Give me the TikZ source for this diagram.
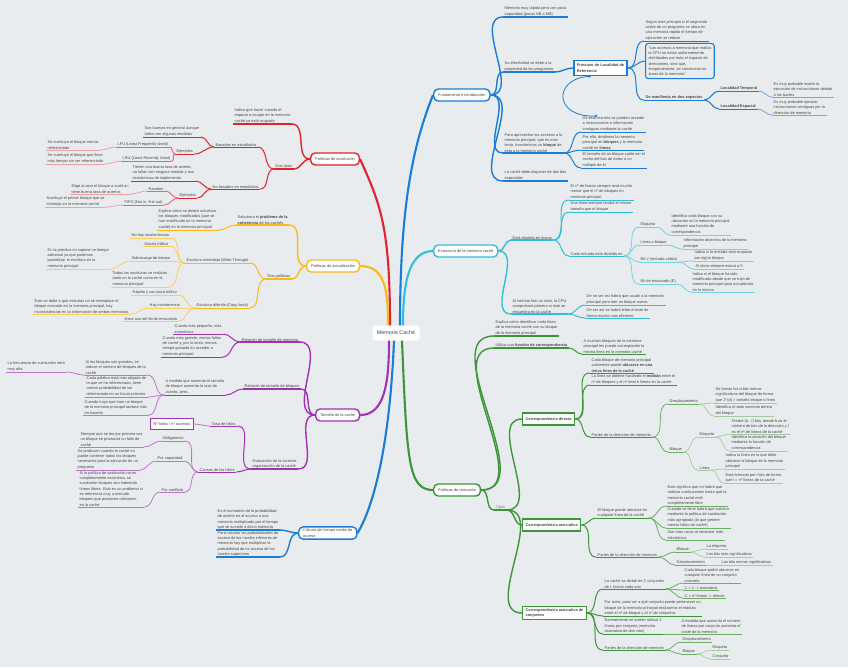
\documentclass[tikz,border=0pt]{standalone}
\usepackage{fontspec}
\setmainfont{Liberation Sans}
\definecolor{bgc}{RGB}{233,236,239}
\definecolor{coltxt}{RGB}{70,70,70}
\definecolor{colrA}{RGB}{226,35,45}
\definecolor{colrB}{RGB}{232,100,110}
\definecolor{colrC}{RGB}{240,160,168}
\definecolor{colyA}{RGB}{250,185,25}
\definecolor{colyB}{RGB}{250,205,90}
\definecolor{colpA}{RGB}{160,50,180}
\definecolor{colpB}{RGB}{190,115,205}
\definecolor{colbA}{RGB}{25,125,215}
\definecolor{colbB}{RGB}{110,170,230}
\definecolor{colcA}{RGB}{50,190,215}
\definecolor{colcB}{RGB}{115,210,228}
\definecolor{colgA}{RGB}{60,150,55}
\definecolor{colgB}{RGB}{105,175,100}
\definecolor{colgC}{RGB}{160,205,155}
\newcommand\fs{\fontsize{3.9}{5.3}\selectfont}
\newcommand\conR[3]{\draw[#1] (#2) to[out=0,in=180] (#3);}
\newcommand\conL[3]{\draw[#1] (#2) to[out=180,in=0] (#3);}
\begin{document}
\begin{tikzpicture}[x=1pt,y=-1pt,
 txt/.style={font=\fs, text=coltxt, align=left, inner xsep=1.5pt, inner ysep=0.7pt, anchor=south west},
 und/.style={txt, append after command={(\tikzlastnode.south west) edge[#1] (\tikzlastnode.south east)}},
 bx/.style={draw=#1, line width=1.4pt, rounded corners=4.5pt, fill=white, font=\fs, text=coltxt, inner xsep=4.5pt, inner ysep=2pt, minimum height=12pt, align=left, anchor=west},
 rbx/.style={draw=#1, line width=1.3pt, fill=white, font=\fs\bfseries, text=coltxt, inner xsep=3pt, inner ysep=2.2pt, minimum height=12pt, align=left, anchor=west},
 ctr/.style={fill=white, rounded corners=3pt, font=\fontsize{5.4}{6}\selectfont, text=coltxt, minimum width=47pt, minimum height=15pt},
 mred/.style={draw=colrA, line width=2.1pt},
 myel/.style={draw=colyA, line width=2.1pt},
 mpur/.style={draw=colpA, line width=2.1pt},
 mblu/.style={draw=colbA, line width=2.1pt},
 mcya/.style={draw=colcA, line width=2.1pt},
 mgre/.style={draw=colgA, line width=2.1pt},
 lrA/.style={draw=colrA, line width=1.4pt},
 lrB/.style={draw=colrA, line width=1pt},
 lrC/.style={draw=colrB, line width=0.9pt},
 lrD/.style={draw=colrC, line width=0.8pt},
 lyA/.style={draw=colyA, line width=1.4pt},
 lyB/.style={draw=colyA, line width=1pt},
 lyC/.style={draw=colyB, line width=0.8pt},
 lpA/.style={draw=colpA, line width=1.4pt},
 lpB/.style={draw=colpA, line width=1pt},
 lpC/.style={draw=colpB, line width=0.8pt},
 lbA/.style={draw=colbA, line width=1.4pt},
 lbB/.style={draw=colbA, line width=1pt},
 lbC/.style={draw=colbB, line width=0.8pt},
 lcA/.style={draw=colcA, line width=1.4pt},
 lcB/.style={draw=colcA, line width=1pt},
 lcC/.style={draw=colcB, line width=0.8pt},
 lgA/.style={draw=colgA, line width=1.4pt},
 lgB/.style={draw=colgA, line width=1pt},
 lgC/.style={draw=colgB, line width=0.8pt},
 lgD/.style={draw=colgC, line width=0.7pt}
]
\fill[bgc] (0,0) rectangle (848,667);
\useasboundingbox (0,0) rectangle (848,667);

% central
\node[ctr] (c) at (396,333) {Memoria Caché};

% branch boxes
\node[bx=colrA] (ps) at (310,159) {Políticas de sustitución};
\node[bx=colyA] (pa) at (306,266) {Políticas de actualización};
\node[bx=colpA] (tc) at (315,415) {Tamaño de la caché};
\node[bx=colbA] (ct) at (298,533) {Cálculo del tiempo medio de\\acceso};
\node[bx=colbA] (fi) at (433,95) {Fundamento e introducción};
\node[bx=colcA] (es) at (433,251) {Estructura de la memoria caché};
\node[bx=colgA] (pu) at (433,490) {Políticas de ubicación};

% main connectors
\draw[mred] ([xshift=-6pt]c.north) .. controls +(0,-100) and +(20,45) .. (ps.east);
\draw[myel] ([xshift=-8pt]c.north) .. controls +(0,-35) and +(25,0) .. (pa.east);
\draw[mblu] ([xshift=4pt]c.north) .. controls +(0,-120) and +(-20,50) .. (fi.west);
\draw[mcya] ([xshift=7pt]c.north) .. controls +(0,-40) and +(-25,0) .. (es.west);
\draw[mpur] ([xshift=-7pt]c.south) .. controls +(0,40) and +(25,0) .. (tc.east);
\draw[mblu] ([xshift=-2pt]c.south) .. controls +(-5,120) and +(12,-20) .. (ct.east);
\draw[mgre] ([xshift=6pt]c.south) .. controls +(5,120) and +(-25,0) .. (pu.west);

% ---------- RED ----------
\node[und=lrA] (r1) at (233,124) {Indica qué hacer cuando el\\espacio a ocupar en la memoria\\caché ya está ocupado};
\node[und=lrA] (r2) at (274,169) {Dos tipos};
\node[und=lrB] (r3) at (214,147) {Basados en estadística};
\node[und=lrB] (r4) at (211,189) {No basados en estadística};
\node[und=lrB] (r5) at (143,137) {Son buenas en general aunque\\fallan con algunas medidas};
\node[und=lrB] (r6) at (175,154) {Ejemplos};
\node[und=lrC] (r7) at (116,147) {LFU (Least Frequently Used)};
\node[und=lrC] (r8) at (121,161) {LRU (Least Recently Used)};
\node[und=lrD] (r9) at (46,150) {Se sustituye el bloque menos\\referenciado};
\node[und=lrD] (r10) at (46,164) {Se sustituye el bloque que lleva\\más tiempo sin ser referenciado};
\node[und=lrB] (r11) at (131,181) {Tienen una buena tasa de acierto,\\no fallan con ninguna medida y son\\económicas de implementar};
\node[und=lrB] (r12) at (178,198) {Ejemplos};
\node[und=lrC] (r13) at (147,191) {Random};
\node[und=lrC] (r14) at (123,205) {FIFO (first in, first out)};
\node[und=lrD] (r15) at (70,194) {Elige al azar el bloque a sustituir;\\tiene buena tasa de aciertos};
\node[und=lrD] (r16) at (45,207) {Sustituye el primer bloque que se\\introdujo en la memoria caché};
\conL{lrA}{ps.west}{r1.south east}
\conL{lrA}{ps.west}{r2.south east}
\conL{lrB}{r2.south west}{r3.south east}
\conL{lrB}{r2.south west}{r4.south east}
\conL{lrB}{r3.south west}{r5.south east}
\conL{lrB}{r3.south west}{r6.south east}
\conL{lrC}{r6.south west}{r7.south east}
\conL{lrC}{r6.south west}{r8.south east}
\conL{lrD}{r7.south west}{r9.south east}
\conL{lrD}{r8.south west}{r10.south east}
\conL{lrB}{r4.south west}{r11.south east}
\conL{lrB}{r4.south west}{r12.south east}
\conL{lrC}{r12.south west}{r13.south east}
\conL{lrC}{r12.south west}{r14.south east}
\conL{lrD}{r13.south west}{r15.south east}
\conL{lrD}{r14.south west}{r16.south east}

% ---------- YELLOW ----------
\node[und=lyA] (y1) at (236,225) {Soluciona el \textbf{problema de la}\\\textbf{coherencia} de las cachés};
\node[und=lyA] (y2) at (266,279) {Dos políticas};
\node[und=lyB] (y3) at (157,230) {Explica cómo se deben actualizar\\los bloques modificados (que se\\han modificado en la memoria\\caché) en la memoria principal};
\node[und=lyB] (y4) at (185,263) {Escritura inmediata (Write Through)};
\node[und=lyB] (y5) at (195,308) {Escritura diferida (Copy back)};
\node[und=lyC] (y6) at (130,238) {No hay incoherencias};
\node[und=lyC] (y7) at (143,246) {Mucho tráfico};
\node[und=lyC] (y8) at (130,261) {Sobrecarga de tiempo};
\node[und=lyC] (y9) at (111,287) {Todas las escrituras se realizan\\tanto en la caché como en la\\memoria principal};
\node[und=lyC] (y10) at (46,269) {En la práctica no supone un tiempo\\adicional ya que podemos\\paralelizar la escritura en la\\memoria principal};
\node[und=lyC] (y11) at (131,295) {Rápido y con poco tráfico};
\node[und=lyC] (y12) at (148,308) {Hay incoherencia};
\node[und=lyC] (y13) at (123,321) {Hace uso del bit de ensuciado};
\node[und=lyC] (y14) at (33,314) {Esto se debe a que mientras no se reemplace el\\bloque marcado en la memoria principal, hay\\inconsistencias en la información de ambas memorias.};
\conL{lyA}{pa.west}{y1.south east}
\conL{lyA}{pa.west}{y2.south east}
\conL{lyB}{y1.south west}{y3.south east}
\conL{lyB}{y2.south west}{y4.south east}
\conL{lyB}{y2.south west}{y5.south east}
\conL{lyC}{y4.south west}{y6.south east}
\conL{lyC}{y4.south west}{y7.south east}
\conL{lyC}{y4.south west}{y8.south east}
\conL{lyC}{y4.south west}{y9.south east}
\conL{lyC}{y8.south west}{y10.south east}
\conL{lyC}{y5.south west}{y11.south east}
\conL{lyC}{y5.south west}{y12.south east}
\conL{lyC}{y5.south west}{y13.south east}
\conL{lyC}{y12.south west}{y14.south east}

% ---------- PURPLE ----------
\node[und=lpA] (p1) at (240,342) {Relación de tamaño de memoria};
\node[und=lpA] (p2) at (243,389) {Relación de tamaño de bloques};
\node[und=lpA] (p3) at (251,469) {Evaluación de la correcta\\organización de la caché};
\node[und=lpB] (p4) at (173,334) {Cuanto más pequeña, más\\económica};
\node[und=lpB] (p5) at (161,357) {Cuanto más grande, menos fallos\\de caché y, por lo tanto, menos\\tiempo gastado en acceder a\\memoria principal};
\node[und=lpB] (p6) at (164,395) {A medida que aumenta el tamaño\\de bloque aumenta la tasa de\\acierto, pero...};
\node[und=lpC] (p7) at (84,375) {Si los bloques son grandes, se\\reduce el número de bloques de la\\caché};
\node[und=lpC] (p8) at (85,397) {Cada palabra está más alejada de\\la que se ha referenciado, tiene\\menos probabilidad de ser\\referenciada en un futuro próximo};
\node[und=lpC] (p9) at (83,415) {Cuando haya que traer un bloque\\de la memoria principal tardará más\\en hacerlo};
\node[und=lpC] (p10) at (6,372) {La frecuencia de sustitución será\\muy alta};
\node[und=lpB] (p11) at (210,426) {Tasa de fallos};
\node[und=lpB] (p12) at (198,472) {Causas de los fallos};
\node[draw=colpA, line width=1.1pt, fill=white, font=\fs, text=coltxt, inner xsep=3pt, minimum height=11.5pt, anchor=west] (p13) at (150,424) {Nº fallos / nº accesos};
\node[und=lpC] (p14) at (161,441) {Obligatorios};
\node[und=lpC] (p15) at (156,461) {Por capacidad};
\node[und=lpC] (p16) at (160,492) {Por conflicto};
\node[und=lpC] (p17) at (79,447) {Siempre que se lea por primera vez\\un bloque se producirá un fallo de\\caché};
\node[und=lpC] (p18) at (76,470) {Se producen cuando la caché no\\puede contener todos los bloques\\necesarios para la ejecución de un\\programa};
\node[und=lpC] (p19) at (78,507) {Si la política de sustitución no es\\completamente asociativa, se\\sustituirán bloques aún habiendo\\líneas libres. Esto es un problema si\\se referencia muy a menudo\\bloques que producen colisiones\\en la caché};
\conL{lpA}{tc.west}{p1.south east}
\conL{lpA}{tc.west}{p2.south east}
\conL{lpA}{tc.west}{p3.south east}
\conL{lpB}{p1.south west}{p4.south east}
\conL{lpB}{p1.south west}{p5.south east}
\conL{lpB}{p2.south west}{p6.south east}
\conL{lpC}{p6.south west}{p7.south east}
\conL{lpC}{p6.south west}{p8.south east}
\conL{lpC}{p6.south west}{p9.south east}
\conL{lpC}{p7.south west}{p10.south east}
\conL{lpB}{p3.south west}{p11.south east}
\conL{lpB}{p3.south west}{p12.south east}
\conL{lpC}{p11.south west}{p13.east}
\conL{lpC}{p12.south west}{p14.south east}
\conL{lpC}{p12.south west}{p15.south east}
\conL{lpC}{p12.south west}{p16.south east}
\conL{lpC}{p14.south west}{p17.south east}
\conL{lpC}{p15.south west}{p18.south east}
\conL{lpC}{p16.south west}{p19.south east}

% ---------- BLUE calculo ----------
\node[und=lbA] (k1) at (216,530) {Es el sumatorio de la probabilidad\\de acierto en el acceso a una\\memoria multiplicado por el tiempo\\que se accede a dicha memoria};
\node[und=lbA] (k2) at (216,557) {Para calcular las probabilidades de\\acceso de los niveles inferiores de\\memoria hay que multiplicar la\\probabilidad de no acceso de los\\niveles superiores};
\conL{lbA}{ct.west}{k1.south east}
\conL{lbA}{ct.west}{k2.south east}

% ---------- BLUE fundamento ----------
\node[und=lbA] (f1) at (503,17) {Memoria muy rápida pero con poca\\capacidad (pocos KB o MB)};
\node[und=lbA] (f2) at (503,72) {Su efectividad se debe a la\\propiedad de los programas};
\node[und=lbA] (f3) at (503,153) {Para aprovechar los accesos a la\\memoria principal, que es más\\lenta, transferimos un \textbf{bloque} de\\esta a la memoria caché};
\node[und=lbA] (f4) at (503,181) {La caché debe disponer de dos bits\\especiales};
\node[rbx=colbA, line width=1.7pt, minimum height=15pt] (pl) at (573,68) {Principio de Localidad de\\Referencia};
\node[und=lbB] (f5) at (644,41) {Según este principio si el segmento\\activo de un programa se ubica en\\una memoria rápida el tiempo de\\ejecución se reduce};
\node[draw=colbA, line width=1.1pt, rounded corners=3pt, font=\fs, text=coltxt, align=left, inner sep=3pt, anchor=west] (f6) at (645,61) {“Los accesos a memoria que realiza\\la CPU no están uniformemente\\distribuidos por todo el espacio de\\direcciones, sino que,\\temporalmente, se concentran en\\áreas de la memoria”.};
\node[und=lbB] (f7) at (644,100) {\textbf{Se manifiesta en dos aspectos}};
\node[und=lbB] (f8) at (719,91) {\textbf{Localidad Temporal}};
\node[und=lbB] (f9) at (719,109) {\textbf{Localidad Espacial}};
\node[und=lbC] (f10) at (772,97) {Es muy probable repetir la\\ejecución de instrucciones debido\\a los bucles};
\node[und=lbC] (f11) at (772,115) {Es muy probable ejecutar\\instrucciones contiguas por la\\dirección de memoria};
\node[und=lbB] (f12) at (581,132) {De esta manera se pueden acceder\\a instrucciones e información\\contiguas mediante la caché};
\node[und=lbB] (f13) at (581,150) {Por ello, dividimos la memoria\\principal en \textbf{bloques} y la memoria\\caché en \textbf{líneas}};
\node[und=lbB] (f14) at (581,168) {El tamaño de un bloque suele ser el\\ancho del bus de datos o un\\múltiplo de él};
\conR{lbA}{fi.east}{f1.south west}
\conR{lbA}{fi.east}{f2.south west}
\conR{lbA}{fi.east}{f3.south west}
\conR{lbA}{fi.east}{f4.south west}
\conR{lbA}{f2.south east}{pl.west}
\conR{lbB}{pl.east}{f5.south west}
\conR{lbB}{pl.east}{f6.west}
\conR{lbB}{pl.east}{f7.south west}
\conR{lbB}{f7.south east}{f8.south west}
\conR{lbB}{f7.south east}{f9.south west}
\conR{lbC}{f8.south east}{f10.south west}
\conR{lbC}{f9.south east}{f11.south west}
\conR{lbB}{f3.south east}{f12.south west}
\conR{lbB}{f3.south east}{f13.south west}
\conR{lbB}{f3.south east}{f14.south west}
\coordinate (rel1) at ([xshift=-11pt]pl.south);
\coordinate (rel2) at (596,116);
\draw[draw=colbA, line width=0.8pt] (rel1) .. controls (553,78) and (553,118) .. (rel2);
\fill[colbA] (rel1) circle (1.4);
\fill[colbA] (rel2) circle (1.4);

% ---------- CYAN ----------
\node[und=lcA] (e1) at (511,240) {Está dividida en líneas};
\node[und=lcA] (e2) at (511,314) {Al intentar leer un dato, la CPU\\comprobará primero si este se\\encuentra en la caché};
\node[und=lcB] (e3) at (569,200) {El nº de líneas siempre será mucho\\menor que el nº de bloques en\\memoria principal};
\node[und=lcB] (e4) at (569,212) {Una línea siempre tendrá el mismo\\tamaño que el bloque};
\node[und=lcB] (e5) at (569,256) {Cada entrada está dividida en};
\node[und=lcC] (e6) at (639,227) {Etiqueta};
\node[und=lcC] (e7) at (639,245) {Línea o bloque};
\node[und=lcC] (e8) at (639,262) {Bit V (entrada válida)};
\node[und=lcC] (e9) at (639,284) {Bit de ensuciado (E)};
\node[und=lcC] (e10) at (670,235) {Identifica cada bloque con su\\ubicación en la memoria principal\\mediante una función de\\correspondencia};
\node[und=lcC] (e11) at (682,249) {Información dinámica de la memoria\\principal};
\node[und=lcC] (e12) at (693,261) {Indica si la entrada está ocupada\\por algún bloque};
\node[und=lcC] (e13) at (694,269) {Al inicio siempre estará a 0};
\node[und=lcC] (e14) at (691,292) {Indica si el bloque ha sido\\modificado desde que se trajo de\\memoria principal para actualizarlo\\en la misma};
\node[und=lcB] (e15) at (585,305) {De no ser así habrá que acudir a la memoria\\principal para leer un bloque nuevo};
\node[und=lcB] (e16) at (585,318) {De ser así se habrá leído el dato de\\forma mucho más eficiente};
\conR{lcA}{es.east}{e1.south west}
\conR{lcA}{es.east}{e2.south west}
\conR{lcB}{e1.south east}{e3.south west}
\conR{lcB}{e1.south east}{e4.south west}
\conR{lcB}{e1.south east}{e5.south west}
\conR{lcC}{e5.south east}{e6.south west}
\conR{lcC}{e5.south east}{e7.south west}
\conR{lcC}{e5.south east}{e8.south west}
\conR{lcC}{e5.south east}{e9.south west}
\conR{lcC}{e6.south east}{e10.south west}
\conR{lcC}{e7.south east}{e11.south west}
\conR{lcC}{e8.south east}{e12.south west}
\conR{lcC}{e8.south east}{e13.south west}
\conR{lcC}{e9.south east}{e14.south west}
\conR{lcB}{e2.south east}{e15.south west}
\conR{lcB}{e2.south east}{e16.south west}

% ---------- GREEN ----------
\node[und=lgA] (g1) at (494,336) {Explica cómo identificar cada línea\\de la memoria caché con su bloque\\de la memoria principal};
\node[und=lgA] (g2) at (494,348) {Utiliza una \textbf{función de correspondencia}};
\node[und=lgA, text=gray] (g3) at (494,510) {Tipos};
\node[und=lgB] (g4) at (582,354) {A muchos bloques de la memoria\\principal les puede corresponder la\\misma línea en la memoria caché};
\node[rbx=colgA] (cd) at (522,419) {Correspondencia directa};
\node[rbx=colgA] (ca) at (522,525) {Correspondencia asociativa};
\node[rbx=colgA] (cc) at (522,613) {Correspondencia asociativa de\\conjuntos};
\conR{lgA}{pu.east}{g1.south west}
\conR{lgA}{pu.east}{g2.south west}
\conR{lgA}{pu.east}{g3.south west}
\conR{lgB}{g2.south east}{g4.south west}
\conR{lgA}{g3.south east}{cd.west}
\conR{lgA}{g3.south east}{ca.west}
\conR{lgA}{g3.south east}{cc.west}
% directa
\node[und=lgB] (d1) at (590,373) {Cada bloque de memoria principal\\solamente puede \textbf{ubicarse en una}\\\textbf{única línea de la caché}};
\node[und=lgB] (d2) at (590,385) {La línea se obtiene haciendo el \textbf{módulo} entre el\\nº de bloques y el nº total e líneas en la caché};
\node[und=lgB] (d3) at (590,437) {Partes de la dirección de memoria};
\node[und=lgC] (d4) at (668,404) {Desplazamiento};
\node[und=lgC] (d5) at (668,452) {Bloque};
\node[und=lgD] (d6) at (714,403) {Se toman los d bits menos\\significativos del bloque de forma\\que 2\textasciicircum(d) = tamaño bloque o línea};
\node[und=lgD] (d7) at (714,416) {Identifica el dato concreto dentro\\del bloque};
\node[und=lgD] (d8) at (698,437) {Etiqueta};
\node[und=lgD] (d9) at (698,470) {Línea};
\node[und=lgD] (d10) at (730,434) {Tendrá (b - l) bits, donde b es el\\número de bits de la dirección y l\\es el nº de líneas de la caché};
\node[und=lgD] (d11) at (730,451) {Identifica la posición del bloque\\mediante la función de\\correspondencia};
\node[und=lgD] (d12) at (724,469) {Indica la línea en la que debe\\ubicarse el bloque de la memoria\\principal};
\node[und=lgD] (d13) at (724,483) {Está formada por l bits de forma\\que l = nº líneas de la caché};
\conR{lgB}{cd.east}{d1.south west}
\conR{lgB}{cd.east}{d2.south west}
\conR{lgB}{cd.east}{d3.south west}
\conR{lgC}{d3.south east}{d4.south west}
\conR{lgC}{d3.south east}{d5.south west}
\conR{lgD}{d4.south east}{d6.south west}
\conR{lgD}{d4.south east}{d7.south west}
\conR{lgD}{d5.south east}{d8.south west}
\conR{lgD}{d5.south east}{d9.south west}
\conR{lgD}{d8.south east}{d10.south west}
\conR{lgD}{d8.south east}{d11.south west}
\conR{lgD}{d9.south east}{d12.south west}
\conR{lgD}{d9.south east}{d13.south west}
% asociativa
\node[und=lgB] (a1) at (596,518) {El bloque puede ubicarse en\\cualquier línea de la caché};
\node[und=lgB] (a2) at (596,557) {Partes de la dirección de memoria};
\node[und=lgC] (a3) at (666,506) {Esto significa que no habrá que\\realizar sustituciones hasta que la\\memoria caché esté\\completamente libre};
\node[und=lgC] (a4) at (666,528) {Cuando se llene habrá que sustituir\\mediante la política de sustitución\\más apropiada (la que genere\\menos fallos de caché)};
\node[und=lgC] (a5) at (666,540) {Son más caras al necesitar más\\electrónica};
\node[und=lgC] (a6) at (675,552) {Bloque};
\node[und=lgC] (a7) at (675,565) {Desplazamiento};
\node[und=lgD] (a8) at (705,549) {La etiqueta};
\node[und=lgD] (a9) at (705,557) {Los bits más significativos};
\node[und=lgD] (a10) at (720,565) {Los bits menos significativos};
\conR{lgB}{ca.east}{a1.south west}
\conR{lgB}{ca.east}{a2.south west}
\conR{lgC}{a1.south east}{a3.south west}
\conR{lgC}{a1.south east}{a4.south west}
\conR{lgC}{a1.south east}{a5.south west}
\conR{lgC}{a2.south east}{a6.south west}
\conR{lgC}{a2.south east}{a7.south west}
\conR{lgD}{a6.south east}{a8.south west}
\conR{lgD}{a6.south east}{a9.south west}
\conR{lgD}{a7.south east}{a10.south west}
% conjuntos
\node[und=lgB] (s1) at (603,589) {La caché se divide en C conjuntos\\de L líneas cada uno};
\node[und=lgB] (s2) at (603,616) {Por tanto, para ver a qué conjunto puede pertenecer un\\bloque de la memoria principal realizamos el módulo\\entre el nº de bloque y el nº de conjuntos};
\node[und=lgB] (s3) at (603,634) {Normalmente se suelen utilizar 2\\líneas por conjunto (memoria\\asociativa de dos vías)};
\node[und=lgB] (s4) at (603,650) {Partes de la dirección de memoria};
\node[und=lgC] (s5) at (683,583) {Cada bloque podrá ubicarse en\\cualquier línea de un conjunto\\concreto};
\node[und=lgC] (s6) at (683,590) {C = 1 -> asociativa};
\node[und=lgC] (s7) at (683,598) {C = nº líneas -> directa};
\node[und=lgC] (s8) at (680,634) {A medida que aumenta el número\\de líneas por conjunto aumenta el\\coste de la memoria};
\node[und=lgC] (s9) at (681,642) {Desplazamiento};
\node[und=lgC] (s10) at (681,654) {Bloque};
\node[und=lgD] (s11) at (711,650) {Etiqueta};
\node[und=lgD] (s12) at (711,659) {Conjunto};
\conR{lgB}{cc.east}{s1.south west}
\conR{lgB}{cc.east}{s2.south west}
\conR{lgB}{cc.east}{s3.south west}
\conR{lgB}{cc.east}{s4.south west}
\conR{lgC}{s1.south east}{s5.south west}
\conR{lgC}{s1.south east}{s6.south west}
\conR{lgC}{s1.south east}{s7.south west}
\conR{lgC}{s3.south east}{s8.south west}
\conR{lgC}{s4.south east}{s9.south west}
\conR{lgC}{s4.south east}{s10.south west}
\conR{lgD}{s10.south east}{s11.south west}
\conR{lgD}{s10.south east}{s12.south west}
\end{tikzpicture}
\end{document}
